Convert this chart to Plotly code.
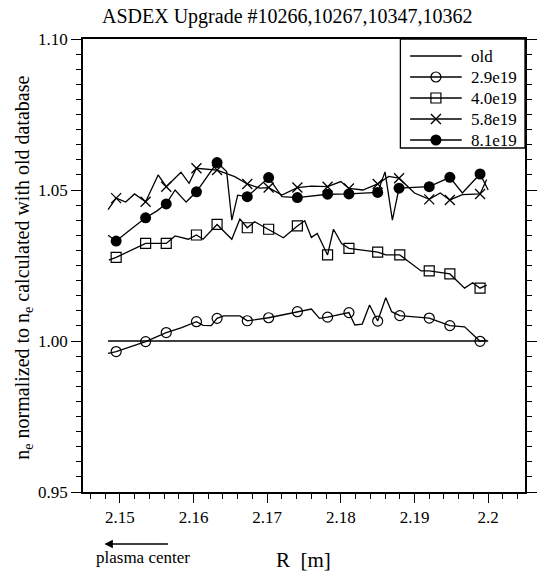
import plotly.graph_objects as go

# ---------------- data ----------------
old_R = [2.1484, 2.2000]
old_v = [1.0000, 1.0000]

# 2.9e19 (open circles)
c29_line_R = [2.1484, 2.1495, 2.1535, 2.1563, 2.1584, 2.1604, 2.1613, 2.1624, 2.1632, 2.1641, 2.1663,
              2.1673, 2.1702, 2.1741, 2.1760, 2.1771, 2.1782, 2.1811, 2.1819, 2.1829, 2.1839, 2.1850,
              2.1861, 2.1869, 2.1880, 2.1900, 2.1920, 2.1948, 2.1968, 2.1989, 2.1998]
c29_line_v = [0.9959, 0.9965, 0.9998, 1.0028, 1.0044, 1.0064, 1.0052, 1.0051, 1.0075, 1.0083, 1.0083,
              1.0067, 1.0077, 1.0097, 1.0106, 1.0075, 1.0079, 1.0094, 1.0053, 1.0056, 1.0119, 1.0066,
              1.0143, 1.0097, 1.0084, 1.0080, 1.0076, 1.0051, 1.0047, 0.9999, 1.0003]
c29_mark_R = [2.1495, 2.1535, 2.1563, 2.1604, 2.1632, 2.1673, 2.1702, 2.1741, 2.1782, 2.1811, 2.1850,
              2.1880, 2.1920, 2.1948, 2.1989]
c29_mark_v = [0.9965, 0.9998, 1.0028, 1.0064, 1.0075, 1.0067, 1.0077, 1.0097, 1.0079, 1.0094, 1.0066,
              1.0084, 1.0076, 1.0051, 0.9999]

# 4.0e19 (open squares)
c40_line_R = [2.1485, 2.1495, 2.1535, 2.1563, 2.1575, 2.1593, 2.1604, 2.1613, 2.1632, 2.1652, 2.1663,
              2.1673, 2.1683, 2.1702, 2.1722, 2.1741, 2.1751, 2.1760, 2.1768, 2.1782, 2.1790, 2.1801,
              2.1811, 2.1850, 2.1861, 2.1880, 2.1909, 2.1920, 2.1948, 2.1968, 2.1979, 2.1989, 2.1998]
c40_line_v = [1.0268, 1.0277, 1.0323, 1.0323, 1.0348, 1.0337, 1.0351, 1.0337, 1.0386, 1.0337, 1.0404,
              1.0375, 1.0395, 1.0370, 1.0342, 1.0381, 1.0398, 1.0343, 1.0356, 1.0285, 1.0370, 1.0323,
              1.0307, 1.0294, 1.0285, 1.0285, 1.0232, 1.0232, 1.0222, 1.0175, 1.0193, 1.0175, 1.0185]
c40_mark_R = [2.1495, 2.1535, 2.1563, 2.1604, 2.1632, 2.1673, 2.1702, 2.1741, 2.1782, 2.1811, 2.1850,
              2.1880, 2.1920, 2.1948, 2.1989]
c40_mark_v = [1.0277, 1.0323, 1.0323, 1.0351, 1.0386, 1.0375, 1.0370, 1.0381, 1.0285, 1.0307, 1.0294,
              1.0285, 1.0232, 1.0222, 1.0175]

# 5.8e19 (crosses)
c58_line_R = [2.1484, 2.1495, 2.1508, 2.1520, 2.1535, 2.1552, 2.1563, 2.1583, 2.1594, 2.1604, 2.1632,
              2.1656, 2.1673, 2.1690, 2.1702, 2.1720, 2.1741, 2.1760, 2.1782, 2.1800, 2.1811, 2.1830,
              2.1850, 2.1865, 2.1879, 2.1900, 2.1920, 2.1935, 2.1948, 2.1965, 2.1989, 2.1998]
c58_line_v = [1.0435, 1.0473, 1.0460, 1.0487, 1.0461, 1.0550, 1.0511, 1.0559, 1.0522, 1.0572, 1.0566,
              1.0544, 1.0520, 1.0506, 1.0508, 1.0483, 1.0508, 1.0513, 1.0511, 1.0528, 1.0505, 1.0500,
              1.0520, 1.0545, 1.0539, 1.0490, 1.0469, 1.0490, 1.0467, 1.0485, 1.0487, 1.0535]
c58_mark_R = [2.1495, 2.1535, 2.1563, 2.1604, 2.1632, 2.1673, 2.1702, 2.1741, 2.1782, 2.1811, 2.1850,
              2.1879, 2.1920, 2.1948, 2.1989]
c58_mark_v = [1.0473, 1.0461, 1.0511, 1.0572, 1.0566, 1.0520, 1.0508, 1.0508, 1.0511, 1.0505, 1.0520,
              1.0539, 1.0469, 1.0467, 1.0487]

# 8.1e19 (filled circles)
c81_line_R = [2.1484, 2.1495, 2.1515, 2.1535, 2.1550, 2.1563, 2.1575, 2.1590, 2.1604, 2.1632, 2.1645,
              2.1652, 2.1660, 2.1673, 2.1702, 2.1720, 2.1741, 2.1782, 2.1811, 2.1850, 2.1860, 2.1870,
              2.1879, 2.1920, 2.1948, 2.1965, 2.1989, 2.2000]
c81_line_v = [1.0350, 1.0331, 1.0370, 1.0408, 1.0430, 1.0454, 1.0500, 1.0460, 1.0494, 1.0591, 1.0561,
              1.0400, 1.0483, 1.0478, 1.0541, 1.0478, 1.0475, 1.0486, 1.0487, 1.0492, 1.0560, 1.0400,
              1.0506, 1.0511, 1.0542, 1.0490, 1.0553, 1.0500]
c81_mark_R = [2.1495, 2.1535, 2.1563, 2.1604, 2.1632, 2.1673, 2.1702, 2.1741, 2.1782, 2.1811, 2.1850,
              2.1879, 2.1920, 2.1948, 2.1989]
c81_mark_v = [1.0331, 1.0408, 1.0454, 1.0494, 1.0591, 1.0478, 1.0541, 1.0475, 1.0486, 1.0487, 1.0492,
              1.0506, 1.0511, 1.0542, 1.0553]

legend_names = ["old", "2.9e19", "4.0e19", "5.8e19", "8.1e19"]
title_text = "ASDEX Upgrade #10266,10267,10347,10362"

# ---------------- figure ----------------
FONT = "Liberation Serif"
LW = 1.3
PL, PR, PT, PB = 83, 537, 39, 492          # plot area in pixels
W, H = PR - PL, PB - PT
fig = go.Figure()

fig.add_trace(go.Scatter(x=old_R, y=old_v, mode="lines", line=dict(color="black", width=LW),
                         showlegend=False, hoverinfo="skip"))

markers = [
    None,
    dict(symbol="circle-open", size=10, color="black", line=dict(width=1.2, color="black")),
    dict(symbol="square-open", size=10, color="black", line=dict(width=1.2, color="black")),
    dict(symbol="x-thin-open", size=10, color="black", line=dict(width=1.3, color="black")),
    dict(symbol="circle", size=11, color="black", line=dict(width=0, color="black")),
]
series = [
    (c29_line_R, c29_line_v, c29_mark_R, c29_mark_v),
    (c40_line_R, c40_line_v, c40_mark_R, c40_mark_v),
    (c58_line_R, c58_line_v, c58_mark_R, c58_mark_v),
    (c81_line_R, c81_line_v, c81_mark_R, c81_mark_v),
]
for i, (lr, lv, mr, mv) in enumerate(series):
    fig.add_trace(go.Scatter(x=lr, y=lv, mode="lines", line=dict(color="black", width=LW),
                             showlegend=False, hoverinfo="skip"))
    fig.add_trace(go.Scatter(x=mr, y=mv, mode="markers", marker=markers[i + 1], showlegend=False,
                             name=legend_names[i + 1]))

# ---- legend drawn in its own pixel-based axes (box: x 409..537, y 39..148) ----
LX0, LX1, LY0, LY1 = 409, 537, 39, 148
row_y = [56, 77, 98, 119, 140]
for k, name in enumerate(legend_names):
    fig.add_trace(go.Scatter(x=[419, 472], y=[row_y[k], row_y[k]], mode="lines",
                             line=dict(color="black", width=LW), xaxis="x2", yaxis="y2",
                             showlegend=False, hoverinfo="skip"))
    if markers[k] is not None:
        fig.add_trace(go.Scatter(x=[445.5], y=[row_y[k]], mode="markers", marker=markers[k],
                                 xaxis="x2", yaxis="y2", showlegend=False, hoverinfo="skip"))
    fig.add_annotation(text=name, xref="x2", yref="y2", x=479, y=row_y[k], xanchor="left",
                       yanchor="middle", showarrow=False, font=dict(size=17, family=FONT))
fig.add_shape(type="rect", xref="paper", yref="paper",
              x0=(LX0 - PL) / W, x1=1, y0=(PB - LY1) / H, y1=1,
              line=dict(color="black", width=1.3), fillcolor="white", layer="below")

fig.update_layout(
    width=542, height=573,
    margin=dict(l=PL, r=542 - PR, t=PT, b=573 - PB),
    plot_bgcolor="rgba(0,0,0,0)", paper_bgcolor="white",
    font=dict(family=FONT, size=17, color="black"),
    showlegend=False,
    xaxis=dict(range=[2.145, 2.205], tick0=2.15, dtick=0.01, ticks="outside", ticklen=9,
               tickwidth=1.3, tickcolor="black", showline=True, linecolor="black", linewidth=1.5,
               mirror=True, showgrid=False, zeroline=False,
               minor=dict(dtick=0.002, ticks="outside", ticklen=5, tickwidth=1.2, tickcolor="black", showgrid=False),
               tickfont=dict(size=17, family=FONT)),
    yaxis=dict(range=[0.95, 1.10], tick0=0.95, dtick=0.05, tickformat=".2f", ticks="outside", ticklen=10,
               tickwidth=1.3, tickcolor="black", showline=True, linecolor="black", linewidth=1.5,
               mirror="ticks", showgrid=False, zeroline=False,
               minor=dict(dtick=0.005, ticks="outside", ticklen=5, tickwidth=1.2, tickcolor="black", showgrid=False),
               tickfont=dict(size=17, family=FONT)),
    xaxis2=dict(domain=[(LX0 - PL) / W, 1], range=[LX0, LX1], visible=False, fixedrange=True,
                anchor="y2"),
    yaxis2=dict(domain=[(PB - LY1) / H, 1], range=[LY1, LY0], visible=False, fixedrange=True,
                anchor="x2"),
)

fig.add_annotation(text=title_text, xref="paper", yref="paper", x=(293 - PL) / W, y=1 + (PT - 17) / H,
                   showarrow=False, font=dict(size=20, family=FONT), xanchor="center", yanchor="middle")
fig.add_annotation(text="n<sub>e</sub> normalized to n<sub>e</sub> calculated with old database",
                   xref="paper", yref="paper", x=(21 - PL) / W, y=(PB - 268) / H, textangle=-90,
                   showarrow=False, font=dict(size=20, family=FONT), xanchor="center", yanchor="middle")
fig.add_annotation(text="R  [m]", xref="paper", yref="paper", x=(309 - PL) / W, y=-(560 - PB) / H,
                   showarrow=False, font=dict(size=21, family=FONT), xanchor="center", yanchor="middle")
fig.add_annotation(text="plasma center", xref="paper", yref="paper", x=(145 - PL) / W, y=-(557 - PB) / H,
                   showarrow=False, font=dict(size=17, family=FONT), xanchor="center", yanchor="middle")
fig.add_annotation(text="", xref="paper", yref="paper",
                   x=(105 - PL) / W, y=-(544 - PB) / H, ax=65, ay=0,
                   axref="pixel", ayref="pixel", showarrow=True, arrowhead=2, arrowsize=1.3,
                   arrowwidth=1.3, arrowcolor="black")

fig.write_html("out.html", config={"displayModeBar": False},
               post_script="document.body.style.margin='0';document.body.style.overflow='hidden';")
